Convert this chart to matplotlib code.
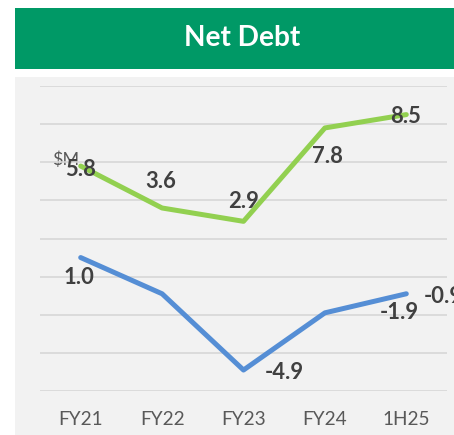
import numpy as np
import matplotlib.pyplot as plt
from matplotlib.patches import Rectangle

# Data ($M)
categories = ['FY21', 'FY22', 'FY23', 'FY24', '1H25']
green_vals = [5.8, 3.6, 2.9, 7.8, 8.5]
blue_vals = [1.0, -0.9, -4.9, -1.9, -0.9]
green_labels = ['5.8', '3.6', '2.9', '7.8', '8.5']
blue_labels = ['1.0', '', '-4.9', '-1.9', '-0.9']

plt.rcParams['font.family'] = ['Lato', 'DejaVu Sans']

# dpi 72 so that points == pixels
fig = plt.figure(figsize=(454/72, 435/72), dpi=72)
fig.patch.set_facecolor('white')

# grey chart panel and green title banner (behind the axes)
fig.add_artist(Rectangle((15/454, 0), 439/454, 358/435, transform=fig.transFigure,
                         facecolor='#F2F2F2', edgecolor='none', zorder=-2))
fig.add_artist(Rectangle((15/454, 366/435), 439/454, 61/435, transform=fig.transFigure,
                         facecolor='#009966', edgecolor='none', zorder=-2))
fig.text(242/454, 1 - 38/435, 'Net Debt', color='white', fontsize=28, fontweight='bold',
         ha='center', va='center')

ax = fig.add_axes([40/454, 44/435, 407/454, 305/435])
ax.set_zorder(1)
ax.set_facecolor('none')
x = np.arange(len(categories))

ax.plot(x, green_vals, color='#92D050', lw=5, solid_capstyle='round', solid_joinstyle='round', zorder=3)
ax.plot(x, blue_vals, color='#558ED5', lw=5, solid_capstyle='round', solid_joinstyle='round', zorder=3)

ax.set_xlim(-0.5, len(categories) - 0.5)
ax.set_ylim(-6, 10)
ax.set_yticks(np.arange(-6, 11, 2))
ax.grid(axis='y', color='#D6D6D6', lw=1.6, zorder=1)
ax.set_axisbelow(True)
ax.set_xticks(x)
ax.set_xticklabels(categories, fontsize=19, color='#595959')
ax.tick_params(axis='x', length=0, pad=20)
ax.tick_params(axis='y', length=0, labelleft=False)
for s in ax.spines.values():
    s.set_visible(False)

# label offsets (px) as placed in the original
green_off = [(0, -3), (-1, 27), (0, 20), (3, -29), (-1, -2)]
blue_off = [(-2, -20), (0, 0), (41, -2), (74, 0), (17, -3)]

for i in range(len(categories)):
    ax.annotate(green_labels[i], (x[i], green_vals[i]), xytext=green_off[i], textcoords='offset points',
                ha='center', va='center', fontsize=22, fontweight='bold', color='#404040', zorder=4)
    if blue_labels[i]:
        ha = 'left' if i == len(categories) - 1 else 'center'
        ax.annotate(blue_labels[i], (x[i], blue_vals[i]), xytext=blue_off[i], textcoords='offset points',
                    ha=ha, va='center', fontsize=22, fontweight='bold', color='#404040',
                    annotation_clip=False, zorder=4)

fig.text(52/454, 1 - 160/435, '$M', fontsize=18, color='#595959', ha='left', va='center', zorder=0)

fig.savefig('out.png', dpi=72)
